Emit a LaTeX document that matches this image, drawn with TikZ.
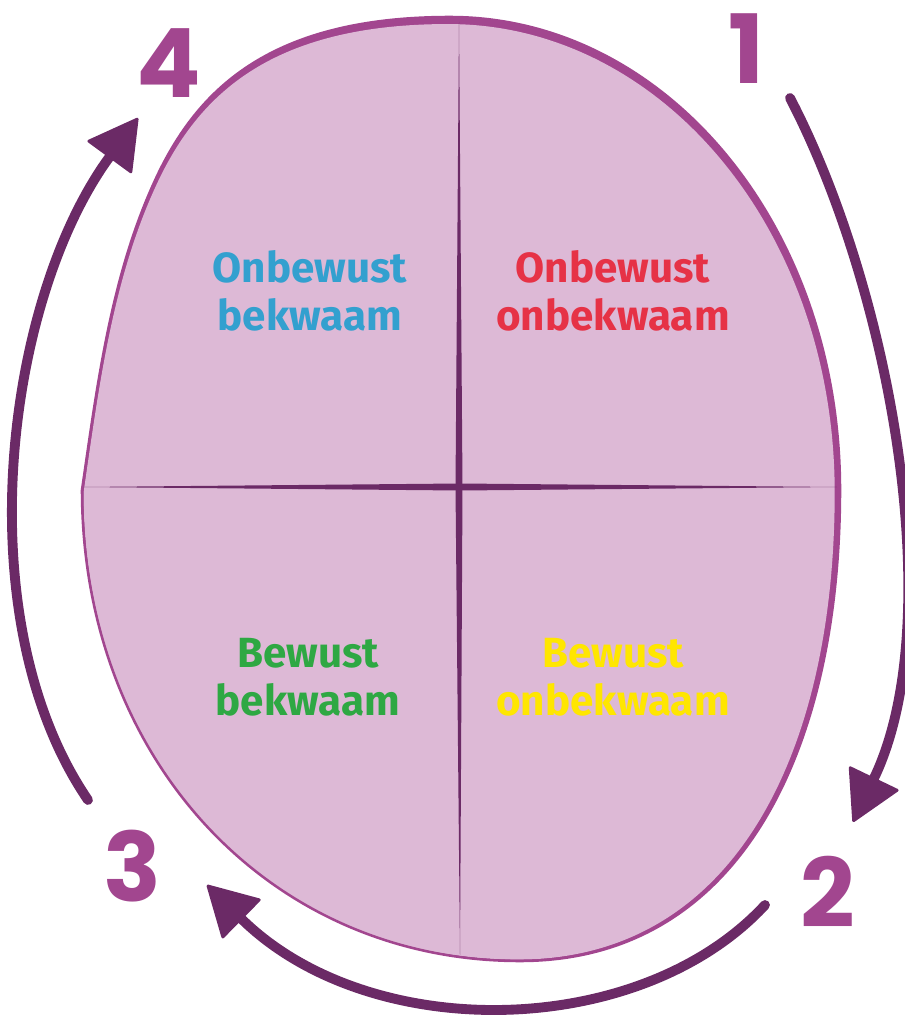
\documentclass[tikz,border=0pt]{standalone}
\usepackage{fontspec}
\setmainfont{Fira Sans}
\newfontfamily\numfont{Poppins}
\usetikzlibrary{arrows.meta}

\definecolor{eggfill}{HTML}{DDB9D6}
\definecolor{eggline}{HTML}{A2468F}
\definecolor{plumdark}{HTML}{6B2A66}
\definecolor{qblue}{HTML}{33A0CF}
\definecolor{qred}{HTML}{E63246}
\definecolor{qgreen}{HTML}{2EA843}
\definecolor{qyellow}{HTML}{FFE600}

\tikzset{
  cyclearrow/.style={draw=plumdark, line width=7pt, line cap=round,
    -{Triangle[length=36pt, width=40pt, round, line width=2pt]}},
  stage/.style={text=eggline, inner sep=0pt,
    font=\numfont\bfseries\fontsize{68}{68}\selectfont},
  quadrant/.style={align=center, inner sep=0pt,
    font=\bfseries\fontsize{30}{34}\selectfont},
}

% outline of the egg
\newcommand{\eggpath}{(450,17) .. controls (665,17) and (840,225) .. (840,490)
  .. controls (840,750) and (740,961) .. (520,961)
  .. controls (270,961) and (82,760) .. (82,490)
  .. controls (98,380) and (112,268) .. (160,170)
  .. controls (200,90) and (270,17) .. (450,17) -- cycle}

\begin{document}
\begin{tikzpicture}[x=0.025cm, y=-0.025cm]
\useasboundingbox (0,0) rectangle (904,1016);
% egg, rim thicker at the upper right
\fill [eggline] \eggpath;
\begin{scope}[shift={(250,800)}, scale=0.991, shift={(-250,-800)}]
  \fill [eggfill] \eggpath;
\end{scope}
% quadrant lines
\fill [plumdark] (83,487) -- (460,483.5) -- (837,487) -- (460,490.5) -- cycle;
\fill [plumdark] (459,22) -- (462.5,487) -- (460,955) -- (455.5,487) -- cycle;
\draw [eggline, line width=1.8pt] \eggpath;

\node [quadrant, text=qblue] (ub) at (310,291) {Onbewust\\bekwaam};
\node [quadrant, text=qred] (uo) at (613,291) {Onbewust\\onbekwaam};
\node [quadrant, text=qgreen] (bb) at (308,677) {Bewust\\bekwaam};
\node [quadrant, text=qyellow] (bo) at (613,677) {Bewust\\onbekwaam};

% cycle
\coordinate (a1) at (790,98);
\coordinate (a2) at (853,822);
\coordinate (b1) at (765,905);
\coordinate (b2) at (207,885);
\coordinate (c1) at (88,800);
\coordinate (c2) at (138,118);
\draw [cyclearrow] (a1) .. controls (890,290) and (950,620) .. (a2);
\draw [cyclearrow] (b1) .. controls (640,1040) and (370,1045) .. (b2);
\draw [cyclearrow] (c1) .. controls (-35,620) and (5,300) .. (c2);

\node [stage] (n1) at (746,49) {1};
\node [stage] (n2) at (828,892) {2};
\node [stage] (n3) at (132,866) {3};
\node [stage] (n4) at (169,63) {4};
\end{tikzpicture}
\end{document}
